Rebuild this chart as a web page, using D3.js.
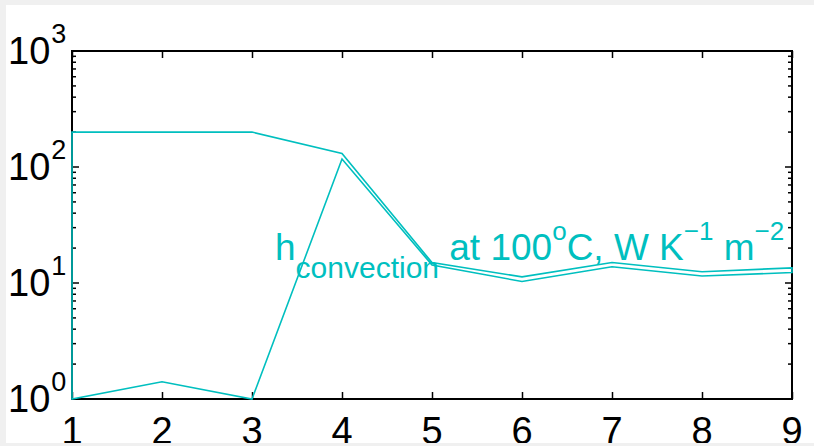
<!DOCTYPE html>
<html>
<head>
<meta charset="utf-8">
<script src="https://cdn.jsdelivr.net/npm/d3@7"></script>
<style>
  html, body { margin: 0; padding: 0; background: #f0f0f0; }
  svg { display: block; }
  text { font-family: "Liberation Sans", Arial, Helvetica, sans-serif; }
</style>
</head>
<body>
<svg id="chart" width="814" height="446"></svg>
<script>
// values
var xs = [1, 2, 3, 4, 5, 6, 7, 8, 9];
var upper = [200, 200, 200, 131, 15, 11.3, 15, 12.5, 13.5];
var lower = [1, 1.41, 1, 117, 14.3, 10.3, 13.8, 11.5, 12.3];
var xTicks = [1, 2, 3, 4, 5, 6, 7, 8, 9];
var yExp = [0, 1, 2, 3];

var cyan = "rgb(0,191,191)";
var margin = {left: 72, top: 51, right: 22, bottom: 47};
var W = 814, H = 446;

var svg = d3.select("#chart");

// white figure area, clipped like the window frame
svg.append("defs").append("clipPath").attr("id", "fig")
    .append("rect").attr("x", 6).attr("y", 5).attr("width", W - 6).attr("height", 438);
svg.append("rect").attr("x", 6).attr("y", 5).attr("width", W - 6).attr("height", 438)
    .attr("fill", "#fff");

var root = svg.append("g").attr("clip-path", "url(#fig)");

var x = d3.scaleLinear().domain([1, 9]).range([margin.left, W - margin.right]);
var y = d3.scaleLog().domain([1, 1000]).range([H - margin.bottom, margin.top]);

var minorTicks = y.ticks();

function styleAxis(g) {
    g.select(".domain").remove();
    g.selectAll(".tick line").attr("stroke", "#000").attr("stroke-width", 1.5);
    g.selectAll(".tick text").remove();
}

// ticks, pointing inward on all four sides
root.append("g").attr("transform", "translate(0," + y.range()[0] + ")")
    .call(d3.axisBottom(x).tickValues(xTicks).tickSize(-7)).call(styleAxis);
root.append("g").attr("transform", "translate(0," + y.range()[1] + ")")
    .call(d3.axisTop(x).tickValues(xTicks).tickSize(-7)).call(styleAxis);

function yTickLen(d) {
    var l = Math.log10(d);
    return Math.abs(l - Math.round(l)) < 1e-9 ? 7 : 4;
}
[["left", x.range()[0], 1], ["right", x.range()[1], -1]].forEach(function (s) {
    root.append("g").selectAll("line").data(minorTicks).enter().append("line")
        .attr("x1", s[1])
        .attr("x2", function (d) { return s[1] + s[2] * yTickLen(d); })
        .attr("y1", function (d) { return y(d); })
        .attr("y2", function (d) { return y(d); })
        .attr("stroke", "#000").attr("stroke-width", 1.5);
});

// frame
root.append("rect")
    .attr("x", x.range()[0]).attr("y", y.range()[1])
    .attr("width", x.range()[1] - x.range()[0])
    .attr("height", y.range()[0] - y.range()[1])
    .attr("fill", "none").attr("stroke", "#000").attr("stroke-width", 2);

// x labels (cut by the bottom edge, as in the original)
root.append("g").selectAll("text").data(xTicks).enter().append("text")
    .attr("x", function (d) { return x(d); })
    .attr("y", y.range()[0] + 45)
    .attr("text-anchor", "middle")
    .attr("font-size", 38)
    .attr("fill", "#000")
    .text(function (d) { return d; });

// y labels 10^n
var yl = root.append("g").selectAll("text").data(yExp).enter().append("text")
    .attr("x", 8)
    .attr("y", function (d) { return y(Math.pow(10, d)) + 13; })
    .attr("font-size", 38)
    .attr("fill", "#000");
yl.append("tspan").text("10");
yl.append("tspan").attr("font-size", 27).attr("dx", 1).attr("dy", -21)
    .text(function (d) { return d; });

// outline: upper series, then lower series back
var pts = xs.map(function (d, i) { return [d, upper[i]]; })
    .concat(xs.map(function (d, i) { return [d, lower[i]]; }).reverse());
var line = d3.line().x(function (d) { return x(d[0]); }).y(function (d) { return y(d[1]); });
root.append("path")
    .attr("d", line(pts) + "Z")
    .attr("fill", "none")
    .attr("stroke", cyan)
    .attr("stroke-width", 1.6)
    .attr("stroke-linejoin", "miter");

// annotation
var t = root.append("text").attr("x", 275).attr("y", 260)
    .attr("font-size", 37).attr("fill", cyan);
t.append("tspan").text("h");
t.append("tspan").attr("font-size", 30).attr("dy", 18).text("convection");
t.append("tspan").attr("dy", -18).text(" at 100");
t.append("tspan").attr("font-size", 26).attr("dy", -20).text("o");
t.append("tspan").attr("dy", 20).text("C, W K");
t.append("tspan").attr("font-size", 26).attr("dy", -20).text("\u22121");
t.append("tspan").attr("dy", 20).text(" m");
t.append("tspan").attr("font-size", 26).attr("dy", -20).text("\u22122");
</script>
</body>
</html>
